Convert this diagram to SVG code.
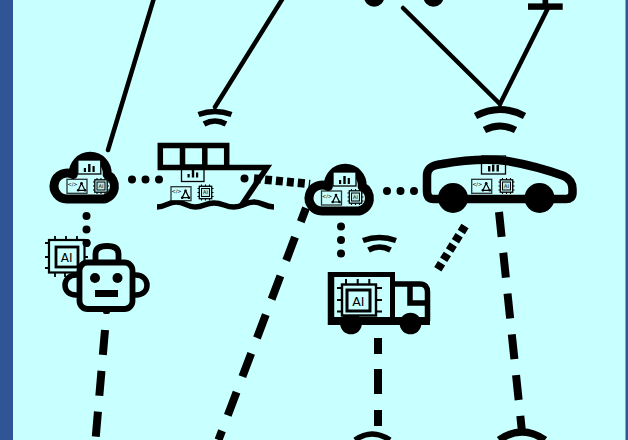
<svg xmlns="http://www.w3.org/2000/svg" width="628" height="440" viewBox="0 0 628 440">
<style>
.s{fill:none;stroke:#000;stroke-linejoin:round}
.m{stroke-linejoin:miter}
.solid{stroke-width:4.5;stroke-linecap:round}
.dash{stroke-width:8;stroke-linecap:butt}
.dots{stroke-width:8;stroke-linecap:round;stroke-dasharray:0 13.5}
.sq{stroke-width:8.500;stroke-dasharray:7 4}
.t{font-family:"DejaVu Sans",sans-serif;fill:#000;text-anchor:middle}
.ico{fill:#c8ffff;stroke:#000}
</style>
<defs>
<g id="chart"><rect x="-11.500" y="-7" width="23" height="14" class="ico" stroke-width="1.300"/><path d="M-5.500 1h2.200v4h-2.200zM-1.200-3h2.400v8h-2.400zM3.200 -1h2.200v6h-2.200z"/></g>
<g id="app"><rect x="-10" y="-7" width="20" height="14" class="ico" stroke-width="1.300" stroke-opacity=".8"/><text x="-4.500" y="-0.500" class="t" font-size="5">&lt;/&gt;</text><path d="M4.500-3 L1.200 4 H8Z" fill="none" stroke="#000" stroke-width="1.200"/><circle cx="4.500" cy="-3" r="1.300"/><circle cx="1.200" cy="4" r="1.300"/><circle cx="8" cy="4" r="1.300"/></g>
<g id="chip"><path d="M-4-8v16M0-8v16M4-8v16M-8-4h16M-8 0h16M-8 4h16" stroke="#000" stroke-width="1.100"/><rect x="-6.200" y="-6.200" width="12.400" height="12.400" class="ico" stroke-width="1.300"/><rect x="-4" y="-4" width="8" height="8" fill="#b8e8e8" stroke="#000" stroke-width="1"/><text y="1.800" class="t" font-size="5">AI</text></g>
<g id="cloud"><path d="M-18.500 13H18.500A13 13 0 0 0 21.700-11.400A17 17 0 1 0-12.200-11.400A13 13 0 1 0-18.500 13Z" class="s" stroke-width="9"/></g>
<g id="wifi1"><path d="M-16.500 -1.500 Q0 -7.500 16.500 -1.500" class="s" stroke-width="5.500"/><path d="M-11 8 Q0 2 11 8" class="s" stroke-width="5.500"/></g>
<g id="wifi2"><path d="M-24.500 1 Q0 -12 24.500 1" class="s" stroke-width="7"/><path d="M-15.500 15 Q0 7 15.500 15" class="s" stroke-width="7"/></g>
</defs>
<rect id="background" width="628" height="440" fill="#c8ffff"/>
<rect id="bar-left" width="13" height="440" fill="#2f5597"/>
<rect id="bar-right" x="625.500" width="2.500" height="440" fill="#2f5597"/>

<g id="connectors">
<path class="s solid" d="M154 -2L108 150"/>
<path class="s solid" d="M283 -2L215 107"/>
<path class="s solid" d="M403 8L500 104"/>
<path class="s solid" d="M548 8L500 104"/>
<path class="s dots" d="M132 179.500H160"/>
<path class="s dots" d="M244.500 178.500H258"/>
<path class="s sq" d="M254 178.600L310 184"/>
<path class="s dots" d="M387 191H416"/>
<path class="s dots" d="M86.500 216V244"/>
<path class="s dots" d="M341 226.500V255"/>
<path class="s sq" d="M465 226L436 272"/>
<path class="s dash" d="M105 330L95.500 440" style="stroke-dasharray:25 16"/>
<path class="s dash" d="M306 208L218.500 440" style="stroke-dasharray:25 16.400;stroke-dashoffset:10.300"/>
<path class="s dash" d="M378 338V436" style="stroke-dasharray:16 15 25 16"/>
<path class="s dash" d="M499 212L522 432" style="stroke-dasharray:25 16"/>
</g>

<g id="node-top-left"><circle cx="374.200" cy="-3.500" r="10.200"/><circle cx="433.500" cy="-3.500" r="10.200"/></g>
<g id="node-top-right"><rect x="528" y="3.400" width="34.700" height="6.400"/><rect x="542.500" y="0" width="5.700" height="5"/></g>

<g id="node-cloud-1"><use href="#cloud" x="85.500" y="186"/><use href="#chart" x="89.300" y="167"/><use href="#app" x="77" y="186.300"/><use href="#chip" x="101" y="186"/></g>

<g id="node-ship">
<use href="#wifi1" x="215" y="116"/>
<rect x="181.500" y="165" width="22.500" height="16.500" class="ico" stroke-width="1.300"/><path d="M187.500 174h2.200v3.500h-2.200zM191.800 170h2.400v7.500h-2.400zM196 172.500h2.200v5h-2.200z"/>
<path class="s m" stroke-width="5.500" d="M160.300 145.500H226.700V167.500H160.300ZM182.500 145.500V167.500M204.800 145.500V167.500M226.700 167.500H267L241 206"/>
<path class="s" stroke-width="5.500" d="M157 207C166 207 168 202 176 202C185 202 187 207 195 207C204 207 205 203 214 203C223 203 225 207 234 207C243 207 245 202 254 202C262 202 265 207 274 207"/>
<use href="#app" x="181" y="193.700"/><use href="#chip" x="205.500" y="192.500"/>
</g>

<g id="node-cloud-2"><use href="#cloud" x="340.500" y="198"/><use href="#chart" x="344.500" y="179"/><use href="#app" x="331.500" y="198"/><use href="#chip" x="355.500" y="197"/></g>

<g id="node-car">
<use href="#wifi2" x="500" y="115"/>
<rect x="481.500" y="156" width="24" height="18" fill="#c8ffff" stroke="#000" stroke-width="1.300"/><path d="M488 166h2.400v5.500h-2.400zM492 164.500h2.400v7h-2.400zM496.500 165h2.400v6.500h-2.400z"/>
<path class="s" stroke-width="8.500" d="M441 199H434C429 199 427 196 427 191V176C427 168 432 165 442 164C465 160 490 159 507 161C530 165 550 171 564 176C570 179 572.500 183 572.500 189V193C572.500 197 570 199 566 199H445"/>
<circle cx="453" cy="198" r="15"/><circle cx="539.500" cy="198" r="15"/>
<use href="#app" x="481.700" y="186.300"/><use href="#chip" x="506.500" y="186"/>
</g>

<g id="node-robot">
<path d="M48 243h-3M48 257h-3M48 268h-3M55 239v-3M66 239v-3M77 239v-3M55 273v4M65 273v4M88 257h-3M88 268h-3" stroke="#000" stroke-width="1.800" fill="none"/>
<rect x="49" y="240" width="35.500" height="32.500" fill="#c8ffff" stroke="#000" stroke-width="2.200"/>
<rect x="56" y="247" width="22" height="20" fill="none" stroke="#000" stroke-width="2.800"/>
<text x="66.700" y="262" class="t" font-size="12">AI</text>
<circle cx="86.500" cy="243" r="4"/>
<path d="M80 275H76C69 275 65 280 65 285C65 291 69 295 76 295H80M132 275H136C143 275 147 280 147 285C147 291 143 295 136 295H132" fill="#c8ffff" stroke="#000" stroke-width="5.500"/>
<path d="M95.500 262V254C95.500 249 99 246 107 246C115 246 118.500 249 118.500 254V262" fill="#c8ffff" stroke="#000" stroke-width="5.800"/>
<rect x="79.500" y="262.500" width="53" height="46.500" rx="8" fill="#c8ffff" stroke="#000" stroke-width="5.800"/>
<circle cx="95" cy="278" r="5"/><circle cx="117.500" cy="278" r="5"/><rect x="95" y="290" width="23" height="7"/>
<rect x="103" y="310" width="7" height="4" rx="2"/>
</g>

<g id="node-truck">
<use href="#wifi1" x="379.500" y="242"/>
<path d="M331 274.500H392.500V321" class="s m" stroke-width="5"/><path d="M331 272V325" class="s" stroke-width="6.500" stroke-linejoin="miter"/>
<path class="s" stroke-width="5.500" d="M392.500 284H420C425 284 427.500 287 427.500 292V321"/>
<path class="s m" stroke-width="5.500" d="M410 284V303H428"/>
<path d="M328 321H430" class="s" stroke-width="8"/>
<circle cx="351" cy="323.500" r="10.800"/><circle cx="410.500" cy="323.500" r="10.800"/>
<path d="M346 279v6M357.700 279v6M369.300 279v6M337 288h6M337 300h6M337 311.500h6M375 288h7M375 300h7M375 311.500h7" stroke="#000" stroke-width="2" fill="none"/>
<rect x="342" y="284.500" width="34" height="31" fill="#c8ffff" stroke="#000" stroke-width="2.400"/>
<rect x="347" y="290" width="23" height="21" fill="none" stroke="#000" stroke-width="3"/>
<text x="358.300" y="305.500" class="t" font-size="12.500">AI</text>
</g>

<g id="node-bottom-left"><path d="M355 440Q372 428 390 440" class="s" stroke-width="5.500"/></g>
<g id="node-bottom-right"><path d="M499 440Q522 424 545 440" class="s" stroke-width="7.500"/></g>
</svg>
